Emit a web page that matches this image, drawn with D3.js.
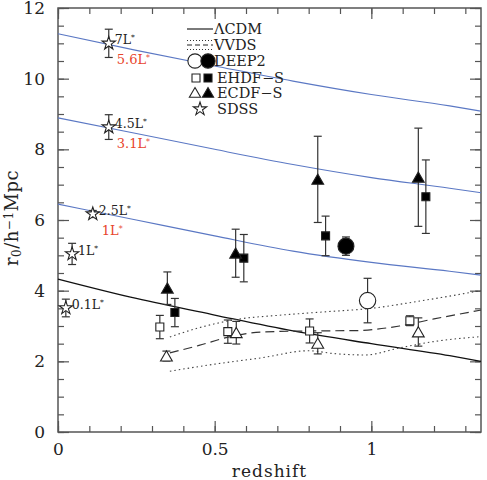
<!DOCTYPE html>
<meta charset='utf-8'>
<style type="text/css">
  body { margin: 0; background: #fff; }
  text { font-family: "DejaVu Serif", serif; }
</style>
<body>
<div class="chart"></div>
<script src='https://cdn.jsdelivr.net/npm/d3@7/dist/d3.min.js'></script>
<script>

// model curves: [redshift, r0]
var curveZ = [0, 0.25, 0.5, 0.75, 1.0, 1.25, 1.35];
var lcdm   = [4.33, 3.78, 3.31, 2.86, 2.5, 2.16, 2.0];
var blueTop = [11.27, 10.8, 10.36, 9.93, 9.55, 9.23, 9.08];
var blueMid = [8.89, 8.45, 8.0, 7.57, 7.2, 6.9, 6.77];
var blueLow = [6.45, 6.0, 5.55, 5.12, 4.8, 4.55, 4.44];

// VVDS
var vvdsZ = [0.357, 0.45, 0.55, 0.65, 0.8, 0.95, 1.09, 1.2, 1.35];
var vvdsMid = [2.24, 2.45, 2.7, 2.83, 2.86, 2.87, 3.0, 3.2, 3.45];
var vvdsLoZ = [0.357, 0.5, 0.65, 0.8, 0.88, 0.98, 1.09, 1.2, 1.35];
var vvdsLo = [1.72, 1.92, 2.1, 2.3, 2.22, 2.18, 2.38, 2.56, 2.7];
var vvdsHiZ = [0.357, 0.45, 0.58, 0.7, 0.85, 1.0, 1.15, 1.35];
var vvdsHi = [2.69, 2.95, 3.2, 3.3, 3.4, 3.5, 3.7, 4.0];

// SDSS stars
var sdssZ = [0.162, 0.162, 0.111, 0.045, 0.025];
var sdssR = [11.0, 8.63, 6.17, 5.04, 3.51];
var sdssErr = [0.4, 0.35, 0.1, 0.3, 0.25];
var sdssLabel = ['7L*', '4.5L*', '2.5L*', '1L*', '0.1L*'];
var sdssRed = ['5.6L*', '3.1L*', '1L*', '', ''];

// EHDF-S
var ehdfOpenZ = [0.325, 0.542, 0.803, 1.123];
var ehdfOpenR = [2.97, 2.84, 2.86, 3.15];
var ehdfOpenErr = [0.33, 0.33, 0.34, 0.14];
var ehdfFillZ = [0.373, 0.593, 0.854, 1.174];
var ehdfFillR = [3.38, 4.92, 5.55, 6.66];
var ehdfFillErr = [0.4, 0.67, 0.56, 1.04];

// ECDF-S
var ecdfOpenZ = [0.346, 0.569, 0.829, 1.15];
var ecdfOpenR = [2.15, 2.81, 2.51, 2.83];
var ecdfOpenErr = [0.14, 0.32, 0.3, 0.4];
var ecdfFillZ = [0.349, 0.567, 0.829, 1.15];
var ecdfFillR = [4.07, 5.06, 7.15, 7.21];
var ecdfFillErr = [0.46, 0.68, 1.22, 1.39];

// DEEP2
var deepOpenZ = [0.988], deepOpenR = [3.72], deepOpenErr = [0.63];
var deepFillZ = [0.919], deepFillR = [5.26], deepFillErr = [0.26];

var xMajor = [0, 0.5, 1];
var xTickLabels = ['0', '0.5', '1'];
var yMajor = [0, 2, 4, 6, 8, 10, 12];

var width = 487, height = 480;
var pLeft = 58, pRight = 481, pTop = 8, pBottom = 432;

var svg = d3.select('.chart').append('svg')
	.attr('width', width)
	.attr('height', height);

var x = d3.scaleLinear().domain([0, 1.35]).range([pLeft, pRight]);
var y = d3.scaleLinear().domain([0, 12]).range([pBottom, pTop]);

var axisColor = '#555';
var xMinor = d3.range(0, 1.351, 0.1).map(function(d){ return +d.toFixed(2); });
var yMinor = d3.range(0, 12.01, 0.5);

function styleAxis(g) {
	g.selectAll('.domain').remove();
	g.selectAll('line').attr('stroke', axisColor).attr('stroke-width', 1.2);
	g.selectAll('text').attr('fill', '#222').style('font-size', '17px');
}

// minor ticks
svg.append('g').attr('transform', 'translate(0,' + pBottom + ')')
	.call(d3.axisBottom(x).tickValues(xMinor).tickSize(-6).tickFormat(''))
	.call(styleAxis);
svg.append('g').attr('transform', 'translate(0,' + pTop + ')')
	.call(d3.axisTop(x).tickValues(xMinor).tickSize(-6).tickFormat(''))
	.call(styleAxis);
svg.append('g').attr('transform', 'translate(' + pLeft + ',0)')
	.call(d3.axisLeft(y).tickValues(yMinor).tickSize(-6).tickFormat(''))
	.call(styleAxis);
svg.append('g').attr('transform', 'translate(' + pRight + ',0)')
	.call(d3.axisRight(y).tickValues(yMinor).tickSize(-6).tickFormat(''))
	.call(styleAxis);

// major ticks
svg.append('g').attr('transform', 'translate(0,' + pBottom + ')')
	.call(d3.axisBottom(x).tickValues(xMajor).tickSize(-11).tickPadding(11)
		.tickFormat(function(d, i){ return xTickLabels[i]; }))
	.call(styleAxis);
svg.append('g').attr('transform', 'translate(0,' + pTop + ')')
	.call(d3.axisTop(x).tickValues(xMajor).tickSize(-11).tickFormat(''))
	.call(styleAxis);
svg.append('g').attr('transform', 'translate(' + pLeft + ',0)')
	.call(d3.axisLeft(y).tickValues(yMajor).tickSize(-11).tickPadding(13).tickFormat(d3.format('d')))
	.call(styleAxis);
svg.append('g').attr('transform', 'translate(' + pRight + ',0)')
	.call(d3.axisRight(y).tickValues(yMajor).tickSize(-11).tickFormat(''))
	.call(styleAxis);

// frame
svg.append('rect')
	.attr('x', pLeft).attr('y', pTop)
	.attr('width', pRight - pLeft).attr('height', pBottom - pTop)
	.attr('fill', 'none').attr('stroke', axisColor).attr('stroke-width', 1.5);

// axis titles
svg.append('text')
	.attr('x', (pLeft + pRight) / 2).attr('y', 477)
	.attr('text-anchor', 'middle')
	.attr('fill', '#222')
	.style('font-size', '17px')
	.style('letter-spacing', '1px')
	.text('redshift');

var yt = svg.append('text')
	.attr('transform', 'translate(18,218) rotate(-90)')
	.attr('text-anchor', 'middle')
	.attr('fill', '#222')
	.style('font-size', '18px')
	.style('letter-spacing', '0.5px');
yt.append('tspan').text('r');
yt.append('tspan').attr('baseline-shift', '-25%').style('font-size', '12px').text('0');
yt.append('tspan').text('/h');
yt.append('tspan').attr('baseline-shift', '40%').style('font-size', '12px').text('−1');
yt.append('tspan').text('Mpc');

var plot = svg.append('g');

function pts(zs, rs) {
	return zs.map(function(z, i){ return [z, rs[i]]; });
}

var line = d3.line()
	.x(function(d){ return x(d[0]); })
	.y(function(d){ return y(d[1]); })
	.curve(d3.curveMonotoneX);

[blueTop, blueMid, blueLow].forEach(function(c){
	plot.append('path')
		.attr('d', line(pts(curveZ, c)))
		.attr('fill', 'none')
		.attr('stroke', '#5b78c4')
		.attr('stroke-width', 1.1);
});

plot.append('path')
	.attr('d', line(pts(curveZ, lcdm)))
	.attr('fill', 'none')
	.attr('stroke', '#111')
	.attr('stroke-width', 1.3);

plot.append('path')
	.attr('d', line(pts(vvdsZ, vvdsMid)))
	.attr('fill', 'none').attr('stroke', '#333')
	.attr('stroke-width', 1.2).attr('stroke-dasharray', '9,5');
plot.append('path')
	.attr('d', line(pts(vvdsLoZ, vvdsLo)))
	.attr('fill', 'none').attr('stroke', '#444')
	.attr('stroke-width', 1.1).attr('stroke-dasharray', '1.5,3');
plot.append('path')
	.attr('d', line(pts(vvdsHiZ, vvdsHi)))
	.attr('fill', 'none').attr('stroke', '#444')
	.attr('stroke-width', 1.1).attr('stroke-dasharray', '1.5,3');

// error bars
function errorBars(zs, rs, es) {
	var g = plot.append('g').attr('stroke', '#333').attr('stroke-width', 1.2);
	zs.forEach(function(z, i){
		var cx = x(z), y0 = y(rs[i] - es[i]), y1 = y(rs[i] + es[i]);
		g.append('line').attr('x1', cx).attr('x2', cx).attr('y1', y0).attr('y2', y1);
		g.append('line').attr('x1', cx - 4).attr('x2', cx + 4).attr('y1', y0).attr('y2', y0);
		g.append('line').attr('x1', cx - 4).attr('x2', cx + 4).attr('y1', y1).attr('y2', y1);
	});
}

function markers(zs, rs, type, size, filled) {
	var sym = d3.symbol().type(type).size(size);
	plot.selectAll(null)
		.data(pts(zs, rs))
		.enter().append('path')
		.attr('d', sym)
		.attr('transform', function(d){
			var dy = type === d3.symbolTriangle ? 1.5 : 0;
			return 'translate(' + x(d[0]) + ',' + (y(d[1]) + dy) + ')';
		})
		.attr('fill', filled ? '#000' : '#fff')
		.attr('stroke', '#222')
		.attr('stroke-width', 1.1);
}

errorBars(ehdfOpenZ, ehdfOpenR, ehdfOpenErr);
errorBars(ecdfOpenZ, ecdfOpenR, ecdfOpenErr);
errorBars(ehdfFillZ, ehdfFillR, ehdfFillErr);
errorBars(ecdfFillZ, ecdfFillR, ecdfFillErr);
errorBars(deepOpenZ, deepOpenR, deepOpenErr);
errorBars(deepFillZ, deepFillR, deepFillErr);
errorBars(sdssZ, sdssR, sdssErr);

markers(ehdfOpenZ, ehdfOpenR, d3.symbolSquare, 64, false);
markers(ecdfOpenZ, ecdfOpenR, d3.symbolTriangle, 60, false);
markers(ehdfFillZ, ehdfFillR, d3.symbolSquare, 64, true);
markers(ecdfFillZ, ecdfFillR, d3.symbolTriangle, 60, true);
markers(deepOpenZ, deepOpenR, d3.symbolCircle, 210, false);
markers(deepFillZ, deepFillR, d3.symbolCircle, 200, true);
markers(sdssZ, sdssR, d3.symbolStar, 55, false);

// SDSS labels
function starLabel(g, str, size) {
	var t = g.append('text').style('font-size', size + 'px');
	t.append('tspan').text(str.replace('*', ''));
	t.append('tspan').attr('baseline-shift', '45%').style('font-size', (size * 0.6) + 'px').text('*');
	return t;
}
sdssZ.forEach(function(z, i){
	var g = plot.append('g');
	starLabel(g, sdssLabel[i], 12.5)
		.attr('x', x(z) + 6).attr('y', y(sdssR[i]) + 1)
		.attr('fill', '#222');
	if (sdssRed[i]) {
		starLabel(g, sdssRed[i], 13)
			.attr('x', x(z) + (i === 2 ? 9 : 8)).attr('y', y(sdssR[i]) + 21)
			.attr('fill', '#e8452c');
	}
});

// legend
var lg = svg.append('g').attr('transform', 'translate(187,0)');
var rows = [29, 45, 61, 78, 93, 109];
var labels = ['ΛCDM', 'VVDS', 'DEEP2', 'EHDF−S', 'ECDF−S', 'SDSS'];
lg.append('line').attr('x1', 0).attr('x2', 26).attr('y1', rows[0]).attr('y2', rows[0])
	.attr('stroke', '#222').attr('stroke-width', 1.2);
lg.append('line').attr('x1', 0).attr('x2', 26).attr('y1', rows[1]).attr('y2', rows[1])
	.attr('stroke', '#222').attr('stroke-width', 1.2).attr('stroke-dasharray', '5,3');
[-4.5, 4.5].forEach(function(o){
	lg.append('line').attr('x1', 0).attr('x2', 26).attr('y1', rows[1] + o).attr('y2', rows[1] + o)
		.attr('stroke', '#333').attr('stroke-width', 1).attr('stroke-dasharray', '1,2');
});
function legSym(type, size, cx, cy, filled) {
	lg.append('path')
		.attr('d', d3.symbol().type(type).size(size))
		.attr('transform', 'translate(' + cx + ',' + cy + ')')
		.attr('fill', filled ? '#000' : '#fff')
		.attr('stroke', '#222').attr('stroke-width', 1.1);
}
legSym(d3.symbolCircle, 160, 8, rows[2], false);
legSym(d3.symbolCircle, 160, 21, rows[2], true);
legSym(d3.symbolSquare, 64, 9, rows[3], false);
legSym(d3.symbolSquare, 64, 21, rows[3], true);
legSym(d3.symbolTriangle, 55, 8, rows[4] + 1, false);
legSym(d3.symbolTriangle, 55, 21, rows[4] + 1, true);
legSym(d3.symbolStar, 55, 13, rows[5], false);
labels.forEach(function(l, i){
	lg.append('text')
		.attr('x', i >= 3 ? 30 : 27).attr('y', rows[i] + 5)
		.attr('fill', '#222')
		.style('font-size', '14.5px')
		.text(l);
});

</script>
</body>
